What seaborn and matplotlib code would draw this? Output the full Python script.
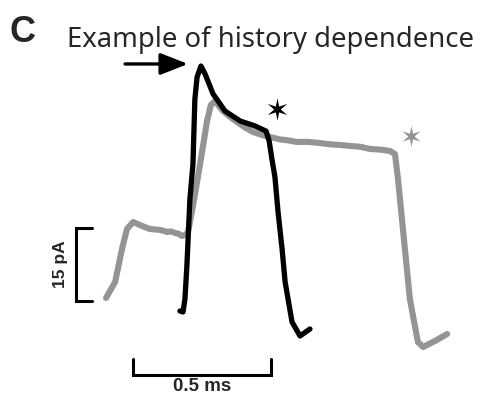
import matplotlib
matplotlib.use("Agg")
import matplotlib.pyplot as plt
import seaborn as sns
import pandas as pd
from matplotlib.path import Path

# ---- data (time in ms, current in pA) ----
gray_t = [0.000, 0.033, 0.058, 0.076, 0.098, 0.123, 0.140, 0.159, 0.178, 0.196, 0.210, 0.221,
          0.236, 0.250, 0.263, 0.275, 0.288, 0.297, 0.315, 0.341, 0.366, 0.380, 0.395,
          0.424, 0.450, 0.475, 0.505, 0.533, 0.565, 0.594, 0.630, 0.660, 0.692, 0.730,
          0.775, 0.810, 0.850, 0.884, 0.920, 0.957, 0.995, 1.029, 1.047, 1.058, 1.083,
          1.101, 1.130, 1.149, 1.192, 1.236]
gray_i = [0.62, 3.90, 10.68, 14.79, 16.23, 15.60, 15.20, 14.79, 14.70, 14.59, 14.40, 14.18,
          14.30, 13.97, 13.80, 13.36, 13.60, 14.18, 19.52, 28.15, 36.98, 40.27, 41.09,
          39.04, 37.80, 36.78, 35.60, 34.72, 34.10, 33.70, 33.20, 33.00, 32.67, 32.70,
          32.46, 32.20, 32.05, 31.85, 31.70, 31.23, 31.10, 30.82, 30.20, 25.07, 10.68,
          0.41, -8.42, -9.45, -8.22, -6.78]

black_t = [0.268, 0.279, 0.286, 0.293, 0.304, 0.315, 0.322, 0.330, 0.344, 0.359, 0.388,
           0.431, 0.486, 0.540, 0.580, 0.591, 0.601, 0.612, 0.623, 0.638, 0.649, 0.674,
           0.703, 0.739]
black_i = [-2.05, -2.26, 0.41, 7.19, 20.96, 28.15, 41.50, 46.02, 48.28, 46.64, 42.53,
           39.04, 36.98, 35.96, 34.90, 32.90, 29.20, 25.50, 18.50, 10.68, 3.90, -4.31,
           -7.19, -5.75]

star_t = [0.620, 1.105]
star_i = [39.45, 33.90]
star_colors = ["#000000", "#949494"]
star_sizes = [16, 15]

arrow_tail = (0.069, 48.7)
arrow_tip = (0.297, 48.7)

scale_pA = 15.0
scale_ms = 0.5
title = "Example of history dependence"
panel = "C"

# ---- plot ----
sns.set_theme(style="white")
plt.rcParams['font.family'] = ['DejaVu Sans']

fig = plt.figure(figsize=(4.82, 4.02), dpi=100)
ax = fig.add_axes([0, 0, 1, 1])
ax.set_xlim(-0.3841, 1.3623)
ax.set_ylim(-20.55, 62.05)
ax.axis("off")

gray_df = pd.DataFrame({"t": gray_t, "i": gray_i})
black_df = pd.DataFrame({"t": black_t, "i": black_i})
sns.lineplot(data=gray_df, x="t", y="i", sort=False, color="#949494", lw=4.4,
             ax=ax, solid_capstyle="round", solid_joinstyle="round")
sns.lineplot(data=black_df, x="t", y="i", sort=False, color="#000000", lw=3.8,
             ax=ax, solid_capstyle="round", solid_joinstyle="round")

star = Path.unit_regular_star(6, innerCircle=0.3)
for t, i, c, s in zip(star_t, star_i, star_colors, star_sizes):
    ax.plot([t], [i], marker=star, color=c, markersize=s, linestyle="none", mew=0)

ax.annotate("", xy=arrow_tip, xytext=arrow_tail,
            arrowprops=dict(arrowstyle="-|>,head_length=1.4,head_width=0.55",
                            color="black", lw=2.4, shrinkA=0, shrinkB=0))

# vertical scale bar (15 pA)
vx, vtick = -0.1087, -0.0507
ax.plot([vtick, vx, vx, vtick], [scale_pA, scale_pA, 0, 0], color="black", lw=2.2,
        solid_joinstyle="miter")
ax.text(-0.165, scale_pA / 2 + 0.3, f"{scale_pA:.0f} pA", rotation=90, ha="center",
        va="center", fontsize=12.5, fontweight="bold", family=["Liberation Sans"])

# horizontal scale bar (0.5 ms)
hx0, hy, htick = 0.0978, -15.2, -11.92
ax.plot([hx0, hx0, hx0 + scale_ms, hx0 + scale_ms], [htick, hy, hy, htick],
        color="black", lw=2.2, solid_joinstyle="miter")
ax.text(hx0 + scale_ms / 2, -17.4, f"{scale_ms} ms", ha="center", va="center",
        fontsize=13.5, fontweight="bold", family=["Liberation Sans"])

fig.text(0.0207, 0.8955, panel, fontsize=26, fontweight="bold",
         family=["Liberation Sans"], ha="left", va="baseline")
fig.text(0.139, 0.883, title, fontsize=19.8, family=["Noto Sans"],
         ha="left", va="baseline")

fig.savefig("out.png", dpi=100)
